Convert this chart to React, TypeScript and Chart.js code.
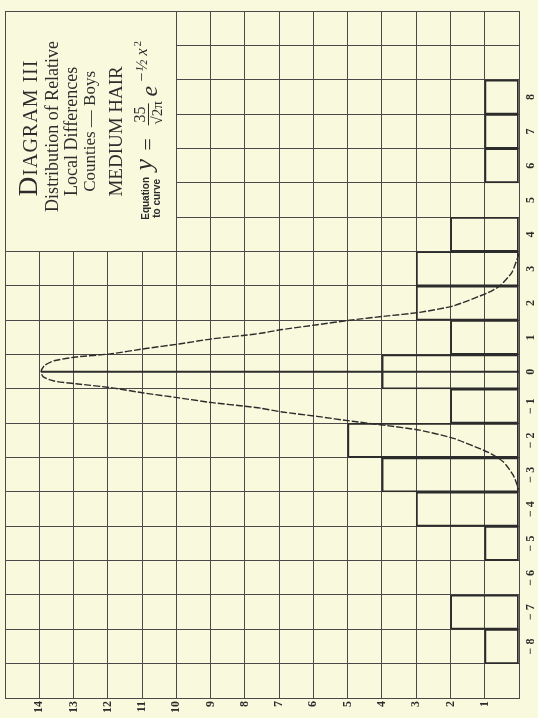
import { useEffect, useRef } from 'react';
import { Chart, registerables } from 'chart.js';

Chart.register(...registerables);

// ---- data ----
const categories = [-8, -7, -6, -5, -4, -3, -2, -1, 0, 1, 2, 3, 4, 5, 6, 7, 8];
const counts = [1, 2, 0, 1, 3, 4, 5, 2, 4, 2, 3, 3, 2, 0, 1, 1, 1];

// fitted normal curve (category position, value)
const curveCats = [3.45, 3.35, 2.89, 2.51, 2.31, 1.92, 1.73, 1.62, 1.51, 1.37, 1.23, 1.12, 1.07, 0.96, 0.81, 0.67, 0.52, 0.43, 0.32, 0.18, 0.0, -0.15, -0.27, -0.35, -0.46, -0.62, -0.76, -0.9, -1.01, -1.06, -1.17, -1.3, -1.44, -1.56, -1.7, -1.94, -2.35, -2.62, -3.01, -3.44];
const curveValues = [0.0, 0.03, 0.21, 0.55, 0.89, 1.91, 2.9, 3.9, 4.87, 5.89, 6.91, 7.54, 7.93, 8.95, 9.92, 10.94, 11.93, 12.93, 13.57, 13.85, 13.95, 13.88, 13.57, 12.93, 11.93, 10.94, 9.92, 8.95, 7.93, 7.54, 6.91, 5.89, 4.87, 3.9, 2.9, 1.91, 0.89, 0.46, 0.17, 0.0];

// ordinate at the mean
const meanLineValues = [0, 13.95];
const meanLineCats = [0, 0];

// axes
const valueTicks = [0, 1, 2, 3, 4, 5, 6, 7, 8, 9, 10, 11, 12, 13, 14, 15];
const valueLabels = ['', '1', '2', '3', '4', '5', '6', '7', '8', '9', '10', '11', '12', '13', '14', ''];
const catTicks = [-9, -8, -7, -6, -5, -4, -3, -2, -1, 0, 1, 2, 3, 4, 5, 6, 7, 8, 9, 10];
const catLabels = ['', '− 8', '− 7', '− 6', '− 5', '− 4', '− 3', '− 2', '− 1', '0', '1', '2', '3', '4', '5', '6', '7', '8', '', ''];

// title panel range (values 10..15, categories 3.5..10.5)
const panelValues = [10, 15];
const panelCats = [3.5, 10.5];

const titleLines = ['Distribution of Relative', 'Local Differences', 'Counties — Boys', 'MEDIUM HAIR'];

const BG = '#f8f9dd';
const INK = '#2c2c2c';
const GRID = '#4a4a4a';
const SERIF = '"Liberation Serif", "DejaVu Serif", serif';
const SANS = '"Liberation Sans", "DejaVu Sans", sans-serif';

export default function App() {
  const ref = useRef<HTMLCanvasElement>(null);

  useEffect(() => {
    document.body.style.margin = '0';
    document.body.style.background = BG;
    const canvas = ref.current;
    if (!canvas) return;

    const panelPlugin = {
      id: 'panel',
      beforeDraw(chart: any) {
        const ctx = chart.ctx;
        ctx.save();
        ctx.fillStyle = BG;
        ctx.fillRect(0, 0, chart.width, chart.height);
        ctx.restore();
      },
      beforeDatasetsDraw(chart: any) {
        const ctx = chart.ctx as CanvasRenderingContext2D;
        const xs = chart.scales.x;
        const ys = chart.scales.y;
        const xl = xs.getPixelForValue(panelValues[1]);
        const xr = xs.getPixelForValue(panelValues[0]);
        const yt = ys.getPixelForValue(panelCats[1]);
        const yb = ys.getPixelForValue(panelCats[0]);
        const L = Math.round(xl - 0.5) + 1;
        const R = Math.round(xr - 0.5);
        const T = Math.round(yt - 0.5) + 1;
        const B = Math.round(yb - 0.5);
        ctx.save();
        ctx.fillStyle = BG;
        ctx.fillRect(L, T, R - L, B - T);

        // rotated text frame: u along text (page up), v across (page right)
        const ox = xl - 5;
        const cy = (yt + yb) / 2;
        ctx.translate(ox, cy);
        ctx.rotate(-Math.PI / 2);
        ctx.fillStyle = INK;
        ctx.strokeStyle = INK;
        ctx.textBaseline = 'alphabetic';

        // DIAGRAM III in small caps
        ctx.textAlign = 'left';
        ctx.font = `27px ${SERIF}`;
        const wD = ctx.measureText('D').width;
        ctx.font = `20px ${SERIF}`;
        (ctx as any).letterSpacing = '1px';
        const wRest = ctx.measureText('IAGRAM III').width;
        const u = 3 - (wD + wRest) / 2;
        ctx.font = `27px ${SERIF}`;
        (ctx as any).letterSpacing = '0px';
        ctx.fillText('D', u, 37);
        ctx.font = `20px ${SERIF}`;
        (ctx as any).letterSpacing = '1px';
        ctx.fillText('IAGRAM III', u + wD + 1, 37);
        (ctx as any).letterSpacing = '0px';

        ctx.textAlign = 'center';
        ctx.font = `18px ${SERIF}`;
        ctx.fillText(titleLines[0], 5, 58);
        ctx.fillText(titleLines[1], 0, 77);
        ctx.font = `17px ${SERIF}`;
        ctx.fillText(titleLines[2], 0, 95);
        ctx.font = `19px ${SERIF}`;
        ctx.fillText(titleLines[3], 0, 122);

        ctx.font = `bold 10px ${SANS}`;
        ctx.fillText('Equation', -67, 149);
        ctx.fillText('to curve', -67, 160);

        // y = 35/√(2π) e^(−½x²)
        ctx.textAlign = 'left';
        ctx.font = `italic 26px ${SERIF}`;
        ctx.fillText('y', -39, 152);
        ctx.font = `22px ${SERIF}`;
        ctx.fillText('=', -19, 155);
        ctx.font = `16px ${SERIF}`;
        ctx.fillText('35', 9, 145);
        ctx.lineWidth = 1;
        ctx.beginPath();
        ctx.moveTo(6, 148.5);
        ctx.lineTo(28, 148.5);
        ctx.stroke();
        ctx.font = `15px ${SERIF}`;
        ctx.fillText('√2π', 7, 162);
        ctx.font = `italic 24px ${SERIF}`;
        ctx.fillText('e', 35, 157);
        ctx.font = `italic 16px ${SERIF}`;
        ctx.fillText('−', 49, 147);
        ctx.fillText('½', 60, 147);
        ctx.fillText('x', 76, 147);
        ctx.font = `11px ${SERIF}`;
        ctx.fillText('2', 85, 141);
        ctx.restore();
      },
    };

    const chart = new Chart(canvas, {
      type: 'bar',
      data: {
        datasets: [
          {
            type: 'line',
            data: curveCats.map((c, i) => ({ x: curveValues[i], y: c })),
            borderColor: INK,
            borderWidth: 1.4,
            borderDash: [7, 2],
            pointRadius: 0,
            tension: 0.2,
            fill: false,
            order: 1,
          } as any,
          {
            type: 'line',
            data: meanLineCats.map((c, i) => ({ x: meanLineValues[i], y: c })),
            borderColor: INK,
            borderWidth: 2,
            pointRadius: 0,
            fill: false,
            order: 2,
          } as any,
          {
            type: 'bar',
            data: categories.map((c, i) => ({ x: counts[i], y: c })),
            backgroundColor: 'rgba(0,0,0,0)',
            borderColor: INK,
            borderWidth: 1.2,
            borderSkipped: false,
            barPercentage: 1,
            categoryPercentage: 1,
            order: 3,
          } as any,
        ],
      },
      options: {
        indexAxis: 'y',
        animation: false,
        responsive: false,
        events: [],
        layout: { padding: { left: 5, top: 9, right: 0, bottom: 0 } },
        plugins: {
          legend: { display: false },
          tooltip: { enabled: false },
          title: { display: false },
        },
        scales: {
          x: {
            type: 'linear',
            position: 'bottom',
            reverse: true,
            min: valueTicks[0],
            max: valueTicks[valueTicks.length - 1],
            offset: false,
            afterBuildTicks: (s: any) => {
              s.ticks = valueTicks.map((v) => ({ value: v }));
            },
            afterFit: (s: any) => {
              s.height = 20;
            },
            ticks: {
              autoSkip: false,
              minRotation: 90,
              maxRotation: 90,
              padding: 3,
              color: INK,
              font: { family: SERIF, size: 12, weight: 'bold' },
              callback: (_v: any, i: number) => valueLabels[i],
            },
            grid: { color: GRID, lineWidth: 1, drawTicks: false },
            border: { color: GRID, width: 1 },
          },
          y: {
            type: 'linear',
            position: 'right',
            min: -9.5,
            max: 10.5,
            offset: false,
            afterBuildTicks: (s: any) => {
              s.ticks = catTicks.map((v) => ({ value: v }));
            },
            afterFit: (s: any) => {
              s.width = 19;
            },
            ticks: {
              autoSkip: false,
              minRotation: 90,
              maxRotation: 90,
              crossAlign: 'center',
              padding: 4,
              color: INK,
              font: { family: SERIF, size: 12, weight: 'bold' },
              callback: (_v: any, i: number) => catLabels[i],
            },
            grid: { offset: true, color: GRID, lineWidth: 1, drawTicks: false },
            border: { color: GRID, width: 1 },
          },
        },
      } as any,
      plugins: [panelPlugin],
    });

    return () => {
      chart.destroy();
    };
  }, []);

  return (
    <div style={{ width: 538, height: 718 }}>
      <canvas ref={ref} width={538} height={718} style={{ display: 'block', width: 538, height: 718 }} />
    </div>
  );
}
